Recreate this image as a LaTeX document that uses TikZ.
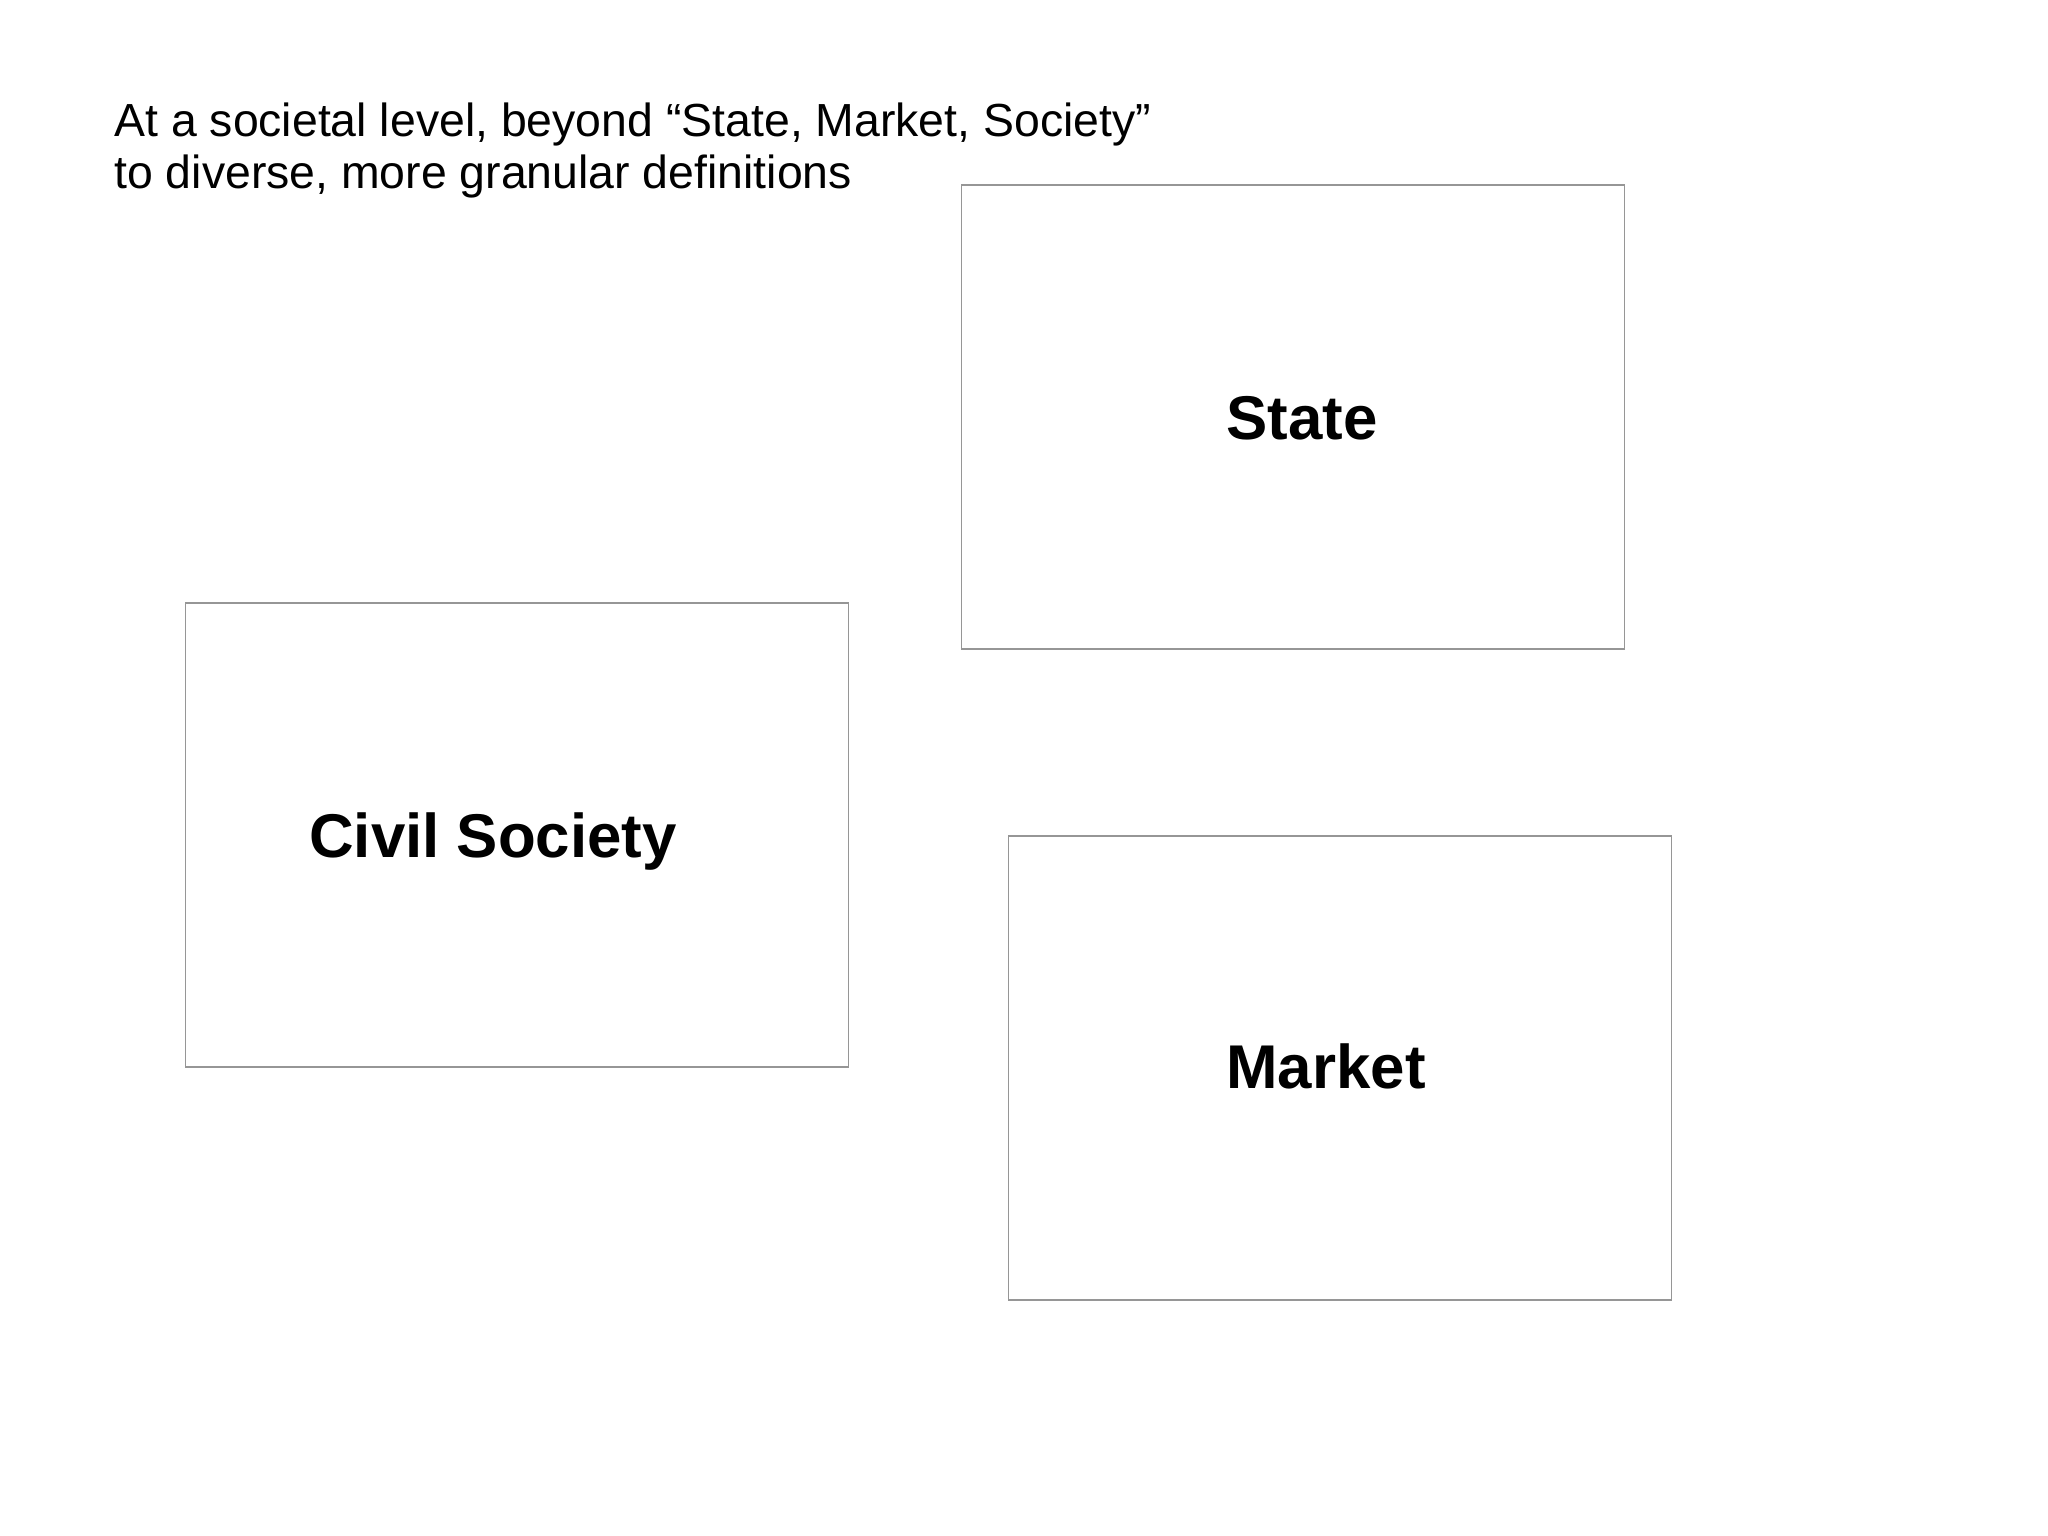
\documentclass[tikz,border=0pt]{standalone}
\usepackage{fontspec}
\setmainfont{Liberation Sans}
\definecolor{boxgray}{RGB}{150,150,150}
\begin{document}
\begin{tikzpicture}[x=0.5pt,y=-0.5pt,
  box/.style={draw=boxgray, line width=0.7pt, minimum width=331.75pt, minimum height=231.85pt, inner sep=0pt},
  lbl/.style={font=\fontsize{30.9}{36}\selectfont\bfseries, anchor=base, inner sep=0pt},
  ttl/.style={font=\fontsize{23.2}{26}\selectfont, anchor=base west, inner sep=0pt}]
\useasboundingbox[fill=white] (0,0) rectangle (2048,1535);
\node[ttl] (t1) at (114,137) {At a societal level, beyond “State, Market, Society”};
\node[ttl] (t2) at (114,189) {to diverse, more granular definitions};
\node[box] (state) at (1293,417) {};
\node[box] (civil) at (517,835) {};
\node[box] (market) at (1340,1068) {};
\node[lbl] (statel) at (1302,439) {State};
\node[lbl] (civill) at (493,857) {Civil Society};
\node[lbl] (marketl) at (1326,1088) {Market};
\end{tikzpicture}
\end{document}
